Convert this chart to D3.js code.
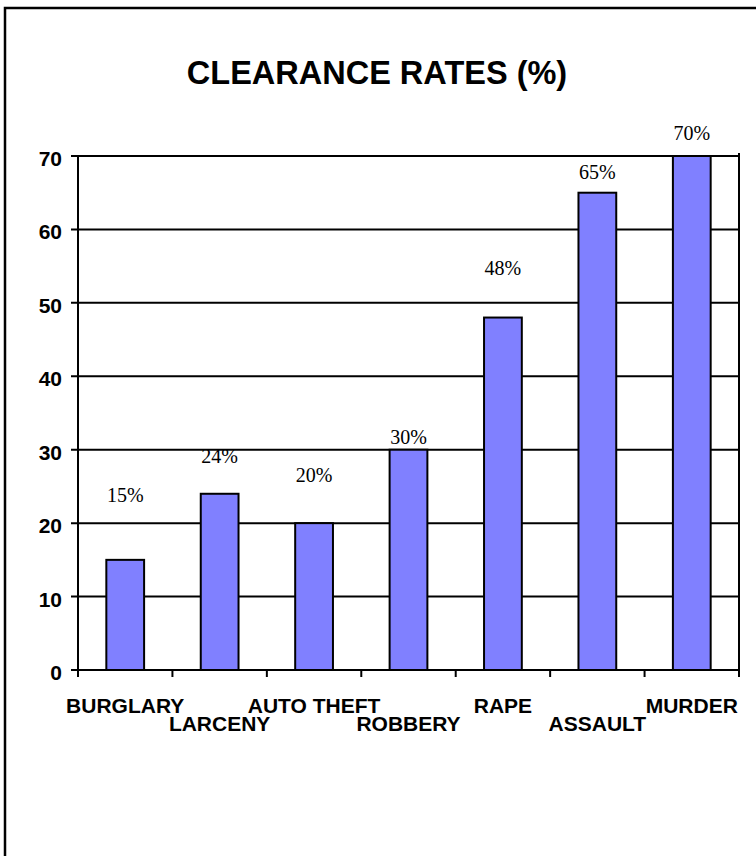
<!DOCTYPE html>
<html>
<head>
<meta charset="utf-8">
<script src="https://cdn.jsdelivr.net/npm/d3@7"></script>
<style>
  body { margin: 0; background: #fff; }
  svg { display: block; }
</style>
</head>
<body>
<svg id="chart"></svg>
<script>
// Chart data
const crimes = ['BURGLARY', 'LARCENY', 'AUTO THEFT', 'ROBBERY', 'RAPE', 'ASSAULT', 'MURDER'];
const rates = [15, 24, 20, 30, 48, 65, 70];
const rateLabels = ['15%', '24%', '20%', '30%', '48%', '65%', '70%'];
const yTicks = [0, 10, 20, 30, 40, 50, 60, 70];

// label placement above each bar (px), as it sits in the original
const labelRaise = [58, 31, 41, 6, 43, 14, 16];

const width = 756;
const height = 856;
const plot = { left: 78, right: 739, top: 156, bottom: 670 };

const svg = d3.select('#chart')
    .attr('width', width)
    .attr('height', height);

// Outer frame (runs off the right and bottom edge)
svg.append('rect')
    .attr('x', 5)
    .attr('y', 8)
    .attr('width', width + 20)
    .attr('height', height + 20)
    .attr('fill', 'none')
    .attr('stroke', '#000')
    .attr('stroke-width', 2.5);

// Title
svg.append('text')
    .attr('x', 377)
    .attr('y', 84)
    .attr('text-anchor', 'middle')
    .attr('font-family', 'Liberation Sans, Arial, sans-serif')
    .attr('font-weight', 'bold')
    .attr('font-size', 32.5)
    .text('CLEARANCE RATES (%)');

// Scales
const x = d3.scaleBand()
    .domain(crimes)
    .range([plot.left, plot.right])
    .paddingInner(0.6)
    .paddingOuter(0.3);

const xTickScale = d3.scaleBand()
    .domain(crimes)
    .range([plot.left, plot.right]);

const y = d3.scaleLinear()
    .domain([0, 70])
    .range([plot.bottom, plot.top]);

// Gridlines
svg.append('g')
    .selectAll('line')
    .data(yTicks)
    .enter()
    .append('line')
    .attr('x1', plot.left - 7)
    .attr('x2', plot.right)
    .attr('y1', d => y(d))
    .attr('y2', d => y(d))
    .attr('stroke', '#000')
    .attr('stroke-width', 2);

// Y tick labels
svg.append('g')
    .selectAll('text')
    .data(yTicks)
    .enter()
    .append('text')
    .attr('x', plot.left - 16)
    .attr('y', d => y(d) + 10)
    .attr('text-anchor', 'end')
    .attr('font-family', 'Liberation Sans, Arial, sans-serif')
    .attr('font-weight', 'bold')
    .attr('font-size', 21)
    .text(d => d);

// Axis lines
svg.append('line')
    .attr('x1', plot.left).attr('x2', plot.left)
    .attr('y1', plot.top).attr('y2', plot.bottom + 7)
    .attr('stroke', '#000').attr('stroke-width', 2);

svg.append('line')
    .attr('x1', plot.right).attr('x2', plot.right)
    .attr('y1', plot.top - 3).attr('y2', plot.bottom + 7)
    .attr('stroke', '#000').attr('stroke-width', 2);

// X ticks
svg.append('g')
    .selectAll('line')
    .data(crimes.slice(1))
    .enter()
    .append('line')
    .attr('x1', d => xTickScale(d))
    .attr('x2', d => xTickScale(d))
    .attr('y1', plot.bottom)
    .attr('y2', plot.bottom + 7)
    .attr('stroke', '#000')
    .attr('stroke-width', 2);

// Bars
svg.append('g')
    .selectAll('rect')
    .data(rates)
    .enter()
    .append('rect')
    .attr('x', (d, i) => x(crimes[i]))
    .attr('y', d => y(d))
    .attr('width', x.bandwidth())
    .attr('height', d => y(0) - y(d))
    .attr('fill', '#8080ff')
    .attr('stroke', '#000')
    .attr('stroke-width', 2);

// Value labels
svg.append('g')
    .selectAll('text')
    .data(rateLabels)
    .enter()
    .append('text')
    .attr('x', (d, i) => x(crimes[i]) + x.bandwidth() / 2)
    .attr('y', (d, i) => y(rates[i]) - labelRaise[i])
    .attr('text-anchor', 'middle')
    .attr('font-family', 'Liberation Serif, Times New Roman, serif')
    .attr('font-size', 20)
    .text(d => d);

// Category labels, staggered on two rows
svg.append('g')
    .selectAll('text')
    .data(crimes)
    .enter()
    .append('text')
    .attr('x', d => xTickScale(d) + xTickScale.bandwidth() / 2)
    .attr('y', (d, i) => i % 2 === 0 ? 713 : 731)
    .attr('text-anchor', 'middle')
    .attr('font-family', 'Liberation Sans, Arial, sans-serif')
    .attr('font-weight', 'bold')
    .attr('font-size', 21)
    .text(d => d);
</script>
</body>
</html>
